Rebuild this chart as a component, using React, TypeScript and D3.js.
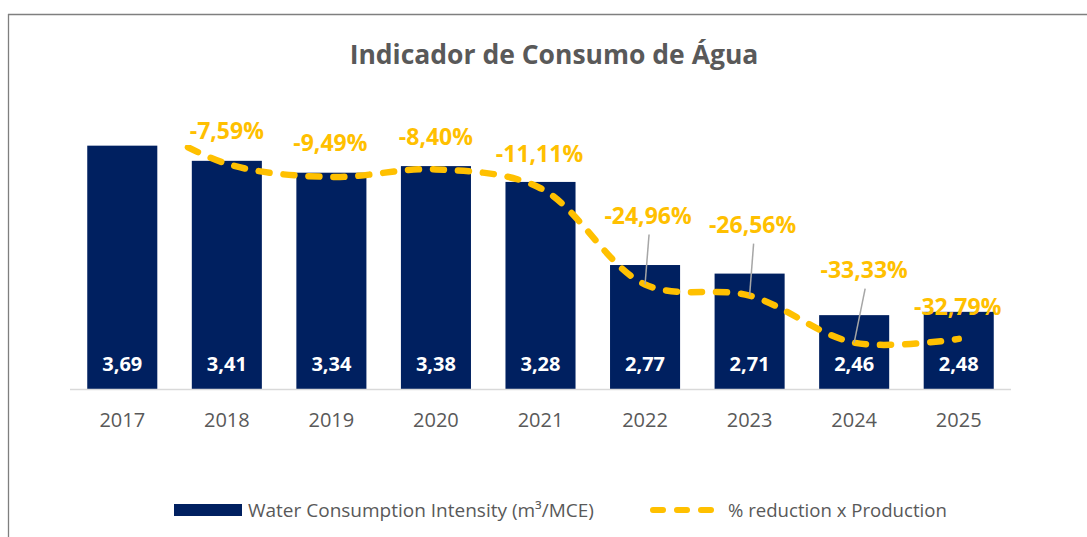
import React from "react";
import * as d3 from "d3";

const years = ["2017", "2018", "2019", "2020", "2021", "2022", "2023", "2024", "2025"];
// bar heights as drawn in the picture (primary axis units)
const barValues = [3.69, 3.46, 3.28, 3.38, 3.14, 1.88, 1.75, 1.12, 1.17];
// labels printed inside the bars
const barLabels = ["3,69", "3,41", "3,34", "3,38", "3,28", "2,77", "2,71", "2,46", "2,48"];
// % reduction x Production (2017 = base, 0%)
const reduction = [0, -7.59, -9.49, -8.4, -11.11, -24.96, -26.56, -33.33, -32.79];
const reductionLabels = ["", "-7,59%", "-9,49%", "-8,40%", "-11,11%", "-24,96%", "-26,56%", "-33,33%", "-32,79%"];
// label placement (layout only)
const labelLayout = [
  { dx: 0, dy: 0, leader: false },
  { dx: 0, dy: -33, leader: false },
  { dx: -1, dy: -34, leader: false },
  { dx: 0, dy: -32, leader: false },
  { dx: -1, dy: -34, leader: false },
  { dx: 3, dy: -69, leader: true },
  { dx: 3, dy: -71, leader: true },
  { dx: 10, dy: -73, leader: true },
  { dx: -1, dy: -32, leader: false },
];

const W = 1087;
const H = 537;
const NAVY = "#002060";
const YELLOW = "#FFC000";
const GRAY = "#595959";
const FONT = "'Open Sans', sans-serif";

export default function App() {
  const plotLeft = 70;
  const plotRight = 1011;
  const plotTop = 145;
  const baseY = 389;

  const x = d3.scaleBand<string>().domain(years).range([plotLeft, plotRight]).paddingInner(0.33).paddingOuter(0.165);
  const y = d3.scaleLinear().domain([0, 3.7]).range([baseY, plotTop]);
  const y2 = d3.scaleLinear().domain([0, -40]).range([111, baseY]);
  const cx = (i: number) => (x(years[i]) as number) + x.bandwidth() / 2;

  const line = d3
    .line<number>()
    .x((_, i) => cx(i))
    .y((d) => y2(d))
    .curve(d3.curveCatmullRom.alpha(0.5));

  return (
    <svg width={W} height={H} style={{ position: "absolute", left: 0, top: 0, background: "#fff" }}>
      <defs>
        <clipPath id="plotClip">
          <rect x={0} y={plotTop} width={W} height={H - plotTop} />
        </clipPath>
      </defs>
      {/* chart border */}
      <line x1={8} x2={W} y1={14.5} y2={14.5} stroke="#7F7F7F" strokeWidth={1.3} />
      <line x1={8.5} x2={8.5} y1={14} y2={H} stroke="#7F7F7F" strokeWidth={1.3} />

      <text x={554} y={64} textAnchor="middle" fontFamily={FONT} fontWeight={700} fontSize={26.5} fill={GRAY}>
        Indicador de Consumo de Água
      </text>

      {/* bars */}
      {years.map((yr, i) => (
        <rect key={yr} x={x(yr)} y={y(barValues[i])} width={x.bandwidth()} height={baseY - y(barValues[i])} fill={NAVY} />
      ))}
      <line x1={plotLeft} x2={plotRight} y1={baseY + 0.5} y2={baseY + 0.5} stroke="#D9D9D9" strokeWidth={1.3} />

      {years.map((yr, i) => (
        <text key={"bl" + yr} x={cx(i)} y={364} dy="0.35em" textAnchor="middle" fontFamily={FONT} fontWeight={700} fontSize={20} fill="#fff">
          {barLabels[i]}
        </text>
      ))}

      {years.map((yr, i) => (
        <text key={"ax" + yr} x={cx(i)} y={420} dy="0.35em" textAnchor="middle" fontFamily={FONT} fontSize={20} fill={GRAY}>
          {yr}
        </text>
      ))}

      {/* line */}
      <g clipPath="url(#plotClip)">
        <path d={line(reduction) || ""} fill="none" stroke={YELLOW} strokeWidth={6.5} strokeDasharray="11 14" strokeLinecap="round" />
      </g>

      {/* leaders */}
      {reduction.map((v, i) =>
        labelLayout[i].leader ? (
          <line
            key={"ld" + i}
            x1={cx(i) + labelLayout[i].dx + 1}
            y1={y2(v) + labelLayout[i].dy + 19}
            x2={cx(i)}
            y2={y2(v)}
            stroke="#A6A6A6"
            strokeWidth={1.5}
          />
        ) : null
      )}

      {reduction.map((v, i) =>
        reductionLabels[i] ? (
          <text
            key={"rl" + i}
            x={cx(i) + labelLayout[i].dx}
            y={y2(v) + labelLayout[i].dy}
            dy="0.35em"
            textAnchor="middle"
            fontFamily={FONT}
            fontWeight={700}
            fontSize={23}
            fill={YELLOW}
          >
            {reductionLabels[i]}
          </text>
        ) : null
      )}

      {/* legend */}
      <rect x={174} y={504} width={68} height={12} fill={NAVY} />
      <text x={248} y={510} dy="0.35em" fontFamily={FONT} fontSize={19} fill={GRAY}>
        Water Consumption Intensity (m³/MCE)
      </text>
      <line x1={653} x2={713} y1={510} y2={510} stroke={YELLOW} strokeWidth={6} strokeDasharray="10 14" strokeLinecap="round" />
      <text x={728} y={510} dy="0.35em" fontFamily={FONT} fontSize={18.6} fill={GRAY}>
        % reduction x Production
      </text>
    </svg>
  );
}
